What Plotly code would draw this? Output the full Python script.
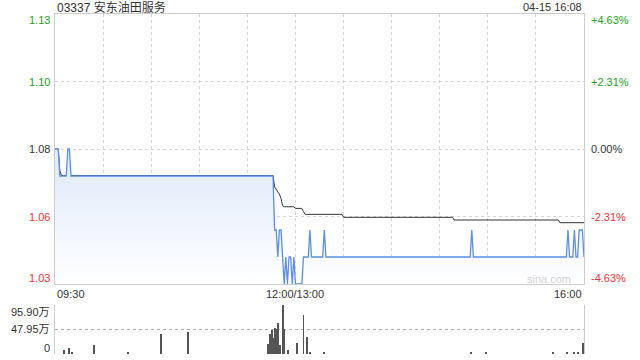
import plotly.graph_objects as go

# ---- data ----
stock_title = "03337 安东油田服务"
timestamp = "04-15 16:08"
prev_close = 1.08
price_low, price_high = 1.03, 1.13

# minute index 0..330 (09:30-12:00, 13:00-16:00)
price = ([1.08] * 3 + [1.07] * 5 + [1.08] * 2 + [1.07] * 127 + [1.05] * 2 + [1.04] + [1.05] * 2
         + [1.04] + [1.03] + [1.04] + [1.03] + [1.04] * 2 + [1.03] + [1.04] + [1.03] * 5
         + [1.04] * 4 + [1.05] + [1.04] * 8 + [1.05] + [1.04] * 91 + [1.05] + [1.04] * 59
         + [1.05] + [1.04] * 3 + [1.05] + [1.04] * 2 + [1.05] * 3 + [1.04])
avg_price = ([1.08] * 3 + [1.072] + [1.0702] * 133 + [1.066, 1.0648, 1.0641, 1.0633, 1.0617, 1.059]
             + [1.0586] * 7 + [1.058] * 5 + [1.0568] + [1.0558] * 24 + [1.0547] * 69
             + [1.0537] * 66 + [1.0527] * 16)
minutes = list(range(len(price)))

vol_idx = [5, 8, 10, 24, 45, 66, 83, 133, 134, 135, 136, 137, 138, 139, 140, 142, 143, 145,
           151, 155, 157, 159, 168, 260, 269, 311, 320, 324, 327, 330]
vol_val = [6.4, 11.6, 2, 18, 4, 39, 42, 20, 39, 46, 30, 50, 49, 60, 18, 95.9, 48, 8,
           21, 76, 32, 1.5, 1.5, 1.5, 3, 2, 1.5, 1.5, 1.5, 21]
vol_max = 95.90

left_ticks = [1.13, 1.105, 1.08, 1.055, 1.03]
left_text = ["1.13", "1.10", "1.08", "1.06", "1.03"]
right_text = ["+4.63%", "+2.31%", "0.00%", "-2.31%", "-4.63%"]
vol_ticks = [vol_max, vol_max / 2, 0]
vol_text = ["95.90万", "47.95万", "0"]
x_ticks = [0, 150, 330]
x_text = ["09:30", "12:00/13:00", "16:00"]
grid_minutes = list(range(30, 330, 30))

GREEN = "#22a322"
RED = "#f33333"
DARK = "#333333"
FONT = "Arial, 'Liberation Sans', 'Noto Sans CJK SC', sans-serif"

fig = go.Figure()
fig.add_trace(go.Scatter(x=minutes, y=avg_price, mode="lines",
                         line=dict(color="#333333", width=1), xaxis="x", yaxis="y",
                         hoverinfo="skip"))
fig.add_trace(go.Scatter(x=minutes, y=price, mode="lines",
                         line=dict(color="#5b8fe6", width=1.3), xaxis="x", yaxis="y",
                         fill="tozeroy",
                         fillgradient=dict(type="vertical", start=price_low, stop=1.07,
                                           colorscale=[[0, "rgba(255,255,255,1)"],
                                                       [1, "rgba(228,237,251,1)"]]),
                         hoverinfo="skip"))
fig.add_trace(go.Bar(x=vol_idx, y=vol_val, marker=dict(color="#555555", line=dict(width=0)),
                     width=0.6, xaxis="x2", yaxis="y2", hoverinfo="skip"))

grid_col = "#d6d6d6"
fig.update_layout(
    width=640, height=360,
    margin=dict(l=55, r=56, t=14, b=6),
    paper_bgcolor="white", plot_bgcolor="white",
    showlegend=False,
    font=dict(family=FONT, size=11, color=DARK),
    bargap=0,
    xaxis=dict(domain=[0, 1], range=[0, 330], anchor="y",
               tickvals=grid_minutes, showticklabels=False, ticks="",
               showgrid=True, gridcolor=grid_col, griddash="dot", gridwidth=1,
               showline=True, linecolor="#cccccc", linewidth=1, mirror=True, zeroline=False),
    yaxis=dict(domain=[70 / 340, 1], range=[price_low, price_high], anchor="x",
               tickvals=[1.055, 1.08, 1.105], showticklabels=False, ticks="",
               showgrid=True, gridcolor=grid_col, griddash="dot", gridwidth=1,
               showline=True, linecolor="#cccccc", linewidth=1, mirror=True, zeroline=False),
    xaxis2=dict(domain=[0, 1], range=[-0.5, 330.5], anchor="y2",
                showticklabels=False, ticks="", showgrid=False,
                showline=False, zeroline=False),
    yaxis2=dict(domain=[0, 49 / 340], range=[-0.6, vol_max], anchor="x2",
                tickvals=vol_ticks, showticklabels=False, ticks="",
                showgrid=True, gridcolor="#aaaaaa", griddash="dot", gridwidth=1,
                showline=True, linecolor="#cccccc", linewidth=1, mirror=True, zeroline=False),
)

ann = []
ann.append(dict(text=stock_title, xref="paper", yref="paper", x=0, y=1, xanchor="left",
                yanchor="middle", yshift=7, showarrow=False,
                font=dict(size=12, color=DARK)))
ann.append(dict(text=timestamp, xref="paper", yref="paper", x=1, y=1, xanchor="right",
                yanchor="middle", yshift=7, showarrow=False,
                font=dict(size=11, color=DARK)))
colors = [GREEN, GREEN, DARK, RED, RED]
shifts = [-6, 0, 0, 0, 6]
for v, lt, rt, c, s in zip(left_ticks, left_text, right_text, colors, shifts):
    ann.append(dict(text=lt, xref="paper", yref="y", x=0, y=v, xanchor="right",
                    yanchor="middle", xshift=-3, yshift=s, showarrow=False,
                    font=dict(size=11, color=c)))
    ann.append(dict(text=rt, xref="paper", yref="y", x=1, y=v, xanchor="left",
                    yanchor="middle", xshift=5, yshift=s, showarrow=False,
                    font=dict(size=11, color=c)))
for v, t, s in zip(vol_ticks, vol_text, [-7, 0, 6]):
    ann.append(dict(text=t, xref="paper", yref="y2", x=0, y=v, xanchor="right",
                    yanchor="middle", xshift=-3, yshift=s, showarrow=False,
                    font=dict(size=11, color=DARK)))
for v, t, a in zip(x_ticks, x_text, ["left", "center", "right"]):
    ann.append(dict(text=t, xref="x", yref="y domain", x=v, y=0, xanchor=a,
                    yanchor="middle", yshift=-10, showarrow=False,
                    font=dict(size=11, color=DARK)))
ann.append(dict(text="sina.com", xref="x domain", yref="y domain", x=1, y=0,
                xanchor="right", yanchor="middle", xshift=-11, yshift=5, showarrow=False,
                font=dict(size=11, color="#d2d2d2")))
fig.update_layout(annotations=ann)

fig.write_html("out.html")
